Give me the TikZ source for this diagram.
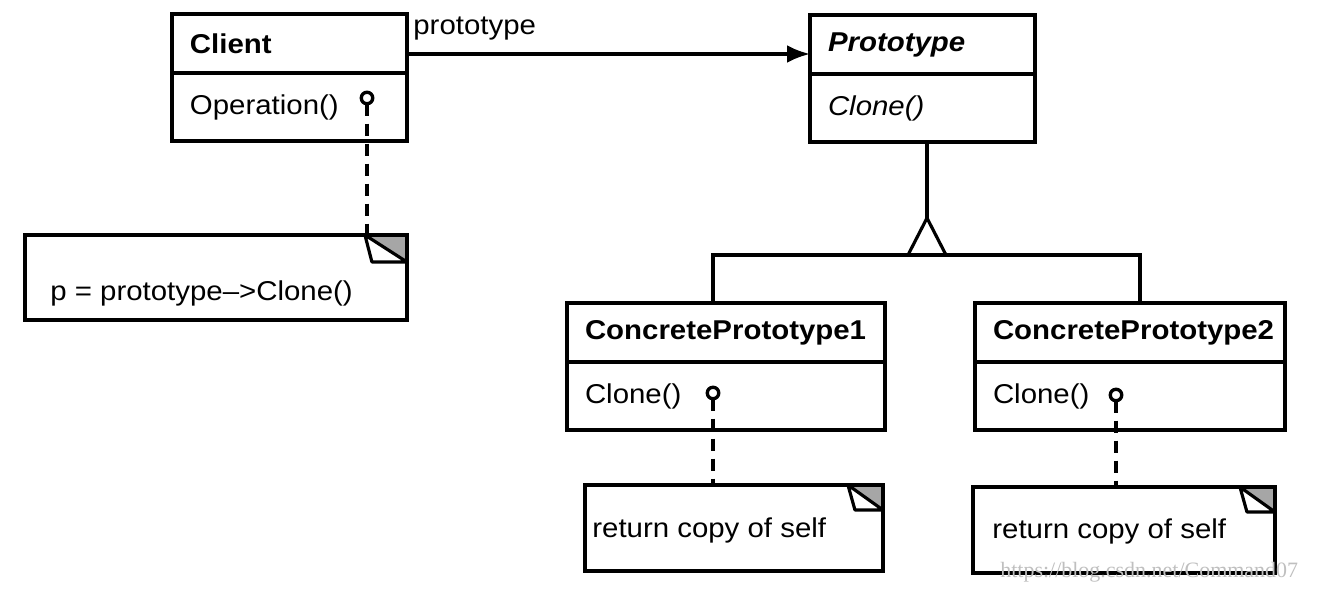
\documentclass[tikz,border=0pt]{standalone}
\usepackage{fontspec}
\setmainfont{Liberation Sans}[FakeStretch=1.08]
\newfontfamily\markfont{Liberation Serif}
\usepackage{tikz}
\usetikzlibrary{positioning,arrows.meta}

% folded corner of a note: #1 node name, #2 fold width, #3 fold height
\newcommand{\notefold}[3]{%
  \fill[gray!70] ([xshift=-#2]#1.north east) -- (#1.north east) -- ([yshift=-#3]#1.north east) -- cycle;
  \draw[line width=1.8pt, fill=white, line join=round] ([xshift=-#2]#1.north east) -- ([xshift=-#2+0.14cm, yshift=-#3]#1.north east) -- ([yshift=-#3]#1.north east) -- cycle;
  \draw[line width=2pt] (#1.north west) rectangle (#1.south east);
}

\begin{document}
\begin{tikzpicture}[>={Latex[length=13pt,width=10pt]}, x=0.02cm, y=-0.02cm]
    \tikzset{
        classhead/.style={draw, rectangle, line width=2pt, outer sep=0pt, minimum height=1.18cm, inner xsep=0.36cm, inner ysep=0pt, text width=#1, align=left, font=\fontsize{15.5}{18}\selectfont\bfseries},
        classbody/.style={draw, rectangle, line width=2pt, outer sep=0pt, minimum height=1.36cm, inner xsep=0.36cm, inner ysep=0pt, text width=#1, align=left, font=\fontsize{15.5}{18}\selectfont},
        lolly/.style={draw, circle, line width=1.9pt, inner sep=0pt, outer sep=0pt, minimum size=0.23cm, fill=white},
        notebox/.style={rectangle, minimum width=#1, minimum height=1.72cm, anchor=north west, inner sep=0pt, outer sep=0pt},
        notetext/.style={anchor=base west, inner sep=0pt, font=\fontsize{15.5}{18}\selectfont},
        noteline/.style={line width=1.8pt, dash pattern=on 0.24cm off 0.16cm},
        flow/.style={->, line width=1.8pt},
        genline/.style={line width=1.8pt}
    }
    \useasboundingbox (0,0) rectangle (1322,594);

    % classes
    \node[classhead=3.98cm, anchor=north west] (client) at (172,14) {Client};
    \node[classbody=3.98cm, below=0pt of client] (clientops) {Operation()};
    \node[lolly] (clientdot) at (367,98) {};

    \node[classhead=3.78cm, anchor=north west] (proto) at (810,15) {\itshape Prototype};
    \node[classbody=3.78cm, below=0pt of proto] (protoops) {\itshape Clone()};

    \node[classhead=5.64cm, anchor=north west] (cpone) at (567,303) {ConcretePrototype1};
    \node[classbody=5.64cm, below=0pt of cpone] (cponeops) {Clone()};
    \node[lolly] (cponedot) at (713,393) {};

    \node[classhead=5.48cm, anchor=north west] (cptwo) at (975,303) {ConcretePrototype2};
    \node[classbody=5.48cm, below=0pt of cptwo] (cptwoops) {Clone()};
    \node[lolly] (cptwodot) at (1116,395) {};

    % notes
    \node[notebox=7.64cm, minimum height=1.7cm] (clientnote) at (25,235) {};
    \notefold{clientnote}{0.84cm}{0.54cm}
    \node[notetext] (clientnotetext) at (50,301) {p = prototype{--}>Clone()};

    \node[notebox=5.96cm] (cponenote) at (585,485) {};
    \notefold{cponenote}{0.7cm}{0.5cm}
    \node[notetext] (cponenotetext) at (592,537) {return copy of self};

    \node[notebox=6.04cm] (cptwonote) at (973,487) {};
    \notefold{cptwonote}{0.7cm}{0.5cm}
    \node[notetext] (cptwonotetext) at (992,538) {return copy of self};

    \draw[noteline] (clientdot) -- (clientdot |- clientnote.north);
    \draw[noteline] (cponedot) -- (cponedot |- cponenote.north);
    \draw[noteline] (cptwodot) -- (cptwodot |- cptwonote.north);

    % association
    \coordinate (refstart) at (client.east |- 0,54);
    \draw[flow] (refstart) -- (refstart -| proto.west);
    \node[notetext] (protolabel) at (413,35) {prototype};

    % generalization
    \coordinate (apex) at (927,218);
    \coordinate (barl) at (713,255);
    \coordinate (barr) at (1140,255);
    \draw[genline] (apex |- protoops.south) -- (apex);
    \draw[genline, line join=miter] (apex) -- ++(19,37) -- ++(-38,0) -- cycle;
    \draw[genline] (barl |- cpone.north) -- (barl) -- (barr) -- (barr |- cptwo.north);

    \node[font=\markfont\fontsize{12.5}{14}\selectfont, text=gray!50, anchor=base west, inner sep=0pt] (mark) at (1000,577) {https://blog.csdn.net/Command07};
\end{tikzpicture}
\end{document}
